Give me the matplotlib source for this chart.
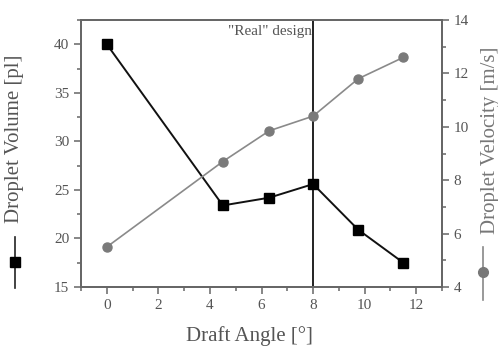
import numpy as np
import matplotlib
matplotlib.use("Agg")
import matplotlib.pyplot as plt
from matplotlib.ticker import MultipleLocator

# Data
angle = [0, 4.5, 6.3, 8.0, 9.75, 11.5]
volume = [40.0, 23.4, 24.2, 25.6, 20.9, 17.5]      # pl
velocity = [5.5, 8.7, 9.85, 10.4, 11.8, 12.6]     # m/s
design_angle = 8.0

plt.rcParams["font.family"] = ["Liberation Serif", "DejaVu Serif"]
txt_col = "#555555"
spine_col = "#666666"

fig = plt.figure(figsize=(4.98, 3.46), dpi=100)
ax = fig.add_axes([0.1627, 0.1705, 0.7249, 0.7717])
ax2 = ax.twinx()

ax.plot(angle, volume, "-s", color="#111111", lw=1.4, ms=6.5,
        mfc="#000000", mec="#000000", zorder=3)
ax2.plot(angle, velocity, "-o", color="#8a8a8a", lw=1.2, ms=6.5,
         mfc="#7a7a7a", mec="#7a7a7a", zorder=3)
ax.axvline(design_angle, color="#222222", lw=1.4, zorder=2)
ax.text(design_angle - 0.05, 42.0, '"Real" design', ha="right", va="top",
        fontsize=11, color=txt_col)

ax.set_xlim(-1, 13)
ax.set_ylim(15, 42.5)
ax2.set_ylim(4, 14)
ax.xaxis.set_major_locator(MultipleLocator(2))
ax.xaxis.set_minor_locator(MultipleLocator(1))
ax.yaxis.set_major_locator(MultipleLocator(5))
ax.yaxis.set_minor_locator(MultipleLocator(2.5))
ax2.yaxis.set_major_locator(MultipleLocator(2))
ax2.yaxis.set_minor_locator(MultipleLocator(1))

for a in (ax, ax2):
    for s in a.spines.values():
        s.set_color(spine_col)
        s.set_linewidth(1.3)
    a.tick_params(which="both", direction="out", color=spine_col, width=1.1,
                  labelcolor=txt_col, labelsize=11)
    a.tick_params(which="major", length=5)
    a.tick_params(which="minor", length=3)
ax.tick_params(axis="x", which="both", top=False)

fig.text(0.5, 0.03, "Draft Angle [°]", ha="center", va="center",
         fontsize=15, color=txt_col)
fig.text(0.030, 0.60, "Droplet Volume [pl]", rotation=90, ha="center",
         va="center", fontsize=15, color=txt_col)
fig.text(0.984, 0.595, "Droplet Velocity [m/s]", rotation=90, ha="center",
         va="center", fontsize=15, color="#777777")

# legend glyphs next to the axis labels
fig.lines.append(plt.Line2D([0.030, 0.030], [1 - 288 / 346, 1 - 237 / 346],
                            transform=fig.transFigure, color="#222222", lw=1.2))
fig.lines.append(plt.Line2D([0.030], [1 - 262 / 346], transform=fig.transFigure,
                            marker="s", ms=7, color="#000000", ls="none"))
fig.lines.append(plt.Line2D([0.970, 0.970], [1 - 300 / 346, 1 - 247 / 346],
                            transform=fig.transFigure, color="#888888", lw=1.2))
fig.lines.append(plt.Line2D([0.970], [1 - 272 / 346], transform=fig.transFigure,
                            marker="o", ms=7, color="#777777", ls="none"))

fig.savefig("out.png", dpi=100)
